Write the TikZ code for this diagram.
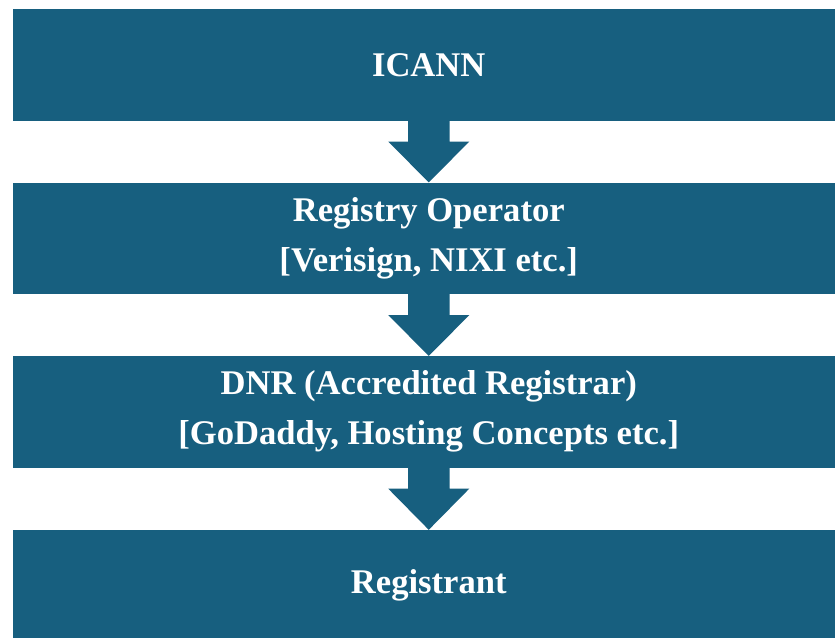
\documentclass[tikz,border=0pt]{standalone}
\usepackage{fontspec}
\setmainfont{Liberation Serif}
\usetikzlibrary{calc}
\definecolor{boxblue}{RGB}{23,95,127}
\tikzset{
  stagebox/.style={fill=boxblue, draw=none, minimum width=832.5pt, minimum height=111.5pt, inner sep=0pt,
    text=white, font=\fontsize{34.6}{50}\selectfont\bfseries, align=center},
  flowarrow/.style={fill=boxblue, draw=none}
}
\newcommand{\flowarrowfrom}[2]{%
  \fill[flowarrow] ($(#1.south)+(-20.75,0)$) -- ($(#1.south)+(20.75,0)$) -- ($(#1.south)+(20.75,21)$)
    -- ($(#1.south)+(40.5,21)$) -- (#2.north) -- ($(#1.south)+(-40.5,21)$) -- ($(#1.south)+(-20.75,21)$) -- cycle;}
\begin{document}
\begin{tikzpicture}[x=1pt,y=-1pt]
\useasboundingbox (0,0) rectangle (835,637);
\fill[white] (0,0) rectangle (835,637);
\node[stagebox] (b1) at (428.75,64.75) {ICANN};
\node[stagebox] (b2) at (428.75,238.25) {Registry Operator\\{[}Verisign, NIXI etc.{]}};
\node[stagebox] (b3) at (428.75,411.75) {DNR (Accredited Registrar)\\{[}GoDaddy, Hosting Concepts etc.{]}};
\node[stagebox] (b4) at (428.75,585.75) {Registrant};
\flowarrowfrom{b1}{b2}
\flowarrowfrom{b2}{b3}
\flowarrowfrom{b3}{b4}
\end{tikzpicture}
\end{document}
